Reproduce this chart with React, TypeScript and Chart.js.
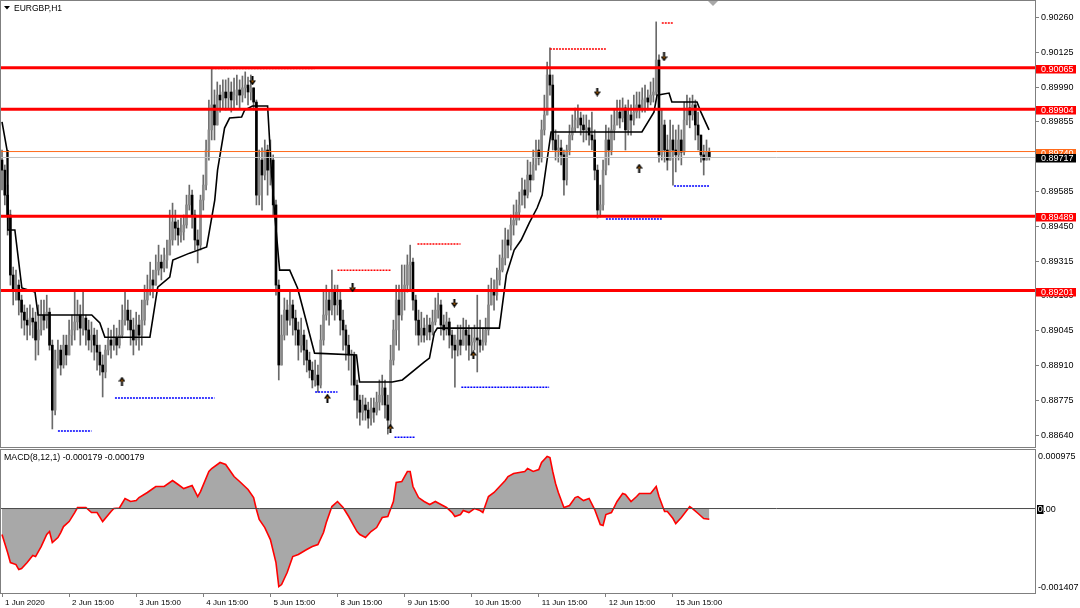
import React, { useEffect, useRef } from "react";
import { Chart, registerables } from "chart.js";

Chart.register(...registerables);

const FONT = "'Liberation Sans', Arial, sans-serif";
const X_MIN = -0.36;
const X_MAX = 369.5;
const Y_MIN = 0.88594;
const Y_MAX = 0.90324;

const symbolTitle = "EURGBP,H1";
const macdTitle = "MACD(8,12,1) -0.000179 -0.000179";

const firstOpen = 0.89707;
const closes = [
  0.89668, 0.89571, 0.89494, 0.89261, 0.89203,
  0.89222, 0.89164, 0.89117, 0.89086, 0.89067,
  0.89094, 0.89079, 0.89009, 0.89048, 0.89106,
  0.89086, 0.89117, 0.88989, 0.88737, 0.88931,
  0.88970, 0.88912, 0.88989, 0.88951, 0.89028,
  0.89048, 0.89079, 0.89106, 0.89055, 0.89094,
  0.89048, 0.89009, 0.89028, 0.88989, 0.88962,
  0.88912, 0.88885, 0.88970, 0.89009, 0.88989,
  0.89017, 0.88989, 0.89028, 0.89086, 0.89125,
  0.89086, 0.89048, 0.89009, 0.89067, 0.89028,
  0.89086, 0.89164, 0.89203, 0.89242, 0.89222,
  0.89280, 0.89311, 0.89288, 0.89319, 0.89339,
  0.89397, 0.89467, 0.89443, 0.89416, 0.89428,
  0.89455, 0.89533, 0.89571, 0.89494, 0.89397,
  0.89377, 0.89552, 0.89610, 0.89746, 0.89824,
  0.89921, 0.89843, 0.89959, 0.89940, 0.89971,
  0.89948, 0.89971, 0.89940, 0.89959, 0.89979,
  0.89959, 0.89987, 0.89998, 0.89971, 0.89987,
  0.89932, 0.89571, 0.89707, 0.89649, 0.89746,
  0.89668, 0.89707, 0.89533, 0.89222, 0.88912,
  0.89028, 0.89125, 0.89086, 0.89145, 0.89094,
  0.89048, 0.88989, 0.89028, 0.88970, 0.88931,
  0.88892, 0.88854, 0.88873, 0.88834, 0.89009,
  0.89106, 0.89164, 0.89125, 0.89195, 0.89145,
  0.89164, 0.89086, 0.89048, 0.88989, 0.88951,
  0.88951, 0.88834, 0.88776, 0.88729, 0.88757,
  0.88737, 0.88706, 0.88745, 0.88729, 0.88768,
  0.88795, 0.88823, 0.88757, 0.88698, 0.88931,
  0.89048, 0.89164, 0.89106, 0.89203, 0.89222,
  0.89300, 0.89311, 0.89164, 0.89086, 0.89028,
  0.89055, 0.89028, 0.89067, 0.89040, 0.89079,
  0.89125, 0.89145, 0.89067, 0.89048, 0.89079,
  0.89028, 0.88989, 0.88970, 0.89009, 0.88989,
  0.89048, 0.89028, 0.88989, 0.89001, 0.89017,
  0.89009, 0.88989, 0.89001, 0.89048, 0.89145,
  0.89203, 0.89183, 0.89242, 0.89280, 0.89327,
  0.89397, 0.89377, 0.89455, 0.89474, 0.89505,
  0.89533, 0.89591, 0.89571, 0.89649, 0.89630,
  0.89688, 0.89746, 0.89715, 0.89824, 0.89882,
  0.90037, 0.89998, 0.89785, 0.89746, 0.89754,
  0.89727, 0.89630, 0.89746, 0.89804, 0.89832,
  0.89862, 0.89870, 0.89843, 0.89824, 0.89832,
  0.89804, 0.89785, 0.89668, 0.89513, 0.89533,
  0.89668, 0.89785, 0.89746, 0.89824, 0.89843,
  0.89893, 0.89870, 0.89909, 0.89824, 0.89882,
  0.89862, 0.89893, 0.89921, 0.89909, 0.89940,
  0.89948, 0.89932, 0.89959, 0.89971, 0.90095,
  0.89727, 0.89843, 0.89746, 0.89707, 0.89785,
  0.89746, 0.89727, 0.89785, 0.89738, 0.89862,
  0.89909, 0.89882, 0.89921, 0.89843, 0.89804,
  0.89727, 0.89707, 0.89738, 0.89717,
];

const highs = [
  0.89746, 0.89688, 0.89610, 0.89513, 0.89292,
  0.89280, 0.89242, 0.89183, 0.89145, 0.89133,
  0.89145, 0.89133, 0.89117, 0.89145, 0.89164,
  0.89164, 0.89183, 0.89133, 0.89009, 0.88970,
  0.89009, 0.88989, 0.89028, 0.89028, 0.89086,
  0.89106, 0.89195, 0.89164, 0.89145, 0.89203,
  0.89106, 0.89086, 0.89079, 0.89055, 0.89048,
  0.88989, 0.88951, 0.88989, 0.89055, 0.89048,
  0.89067, 0.89055, 0.89086, 0.89145, 0.89203,
  0.89164, 0.89125, 0.89094, 0.89117, 0.89106,
  0.89164, 0.89222, 0.89261, 0.89311, 0.89280,
  0.89339, 0.89377, 0.89339, 0.89366, 0.89397,
  0.89513, 0.89540, 0.89513, 0.89474, 0.89482,
  0.89494, 0.89571, 0.89610, 0.89591, 0.89513,
  0.89436, 0.89571, 0.89649, 0.89785, 0.89940,
  0.90064, 0.89979, 0.90010, 0.89998, 0.90018,
  0.90018, 0.90025, 0.90010, 0.90025, 0.90037,
  0.90018, 0.90033, 0.90049, 0.90029, 0.90037,
  0.89987, 0.89940, 0.89746, 0.89754, 0.89785,
  0.89765, 0.89785, 0.89727, 0.89552, 0.89242,
  0.89106, 0.89172, 0.89164, 0.89195, 0.89164,
  0.89125, 0.89079, 0.89094, 0.89048, 0.89009,
  0.88962, 0.88924, 0.88931, 0.88912, 0.89067,
  0.89203, 0.89222, 0.89203, 0.89280, 0.89222,
  0.89222, 0.89195, 0.89125, 0.89067, 0.89028,
  0.88970, 0.88962, 0.88854, 0.88795, 0.88795,
  0.88784, 0.88768, 0.88784, 0.88784, 0.88807,
  0.88854, 0.88873, 0.88854, 0.88795, 0.88989,
  0.89086, 0.89222, 0.89222, 0.89300, 0.89300,
  0.89339, 0.89377, 0.89327, 0.89183, 0.89125,
  0.89117, 0.89094, 0.89106, 0.89094, 0.89125,
  0.89172, 0.89191, 0.89164, 0.89106, 0.89117,
  0.89094, 0.89048, 0.89028, 0.89067, 0.89067,
  0.89094, 0.89086, 0.89067, 0.89055, 0.89067,
  0.89183, 0.89086, 0.89055, 0.89094, 0.89222,
  0.89249, 0.89242, 0.89288, 0.89339, 0.89397,
  0.89443, 0.89436, 0.89494, 0.89533, 0.89552,
  0.89583, 0.89637, 0.89630, 0.89707, 0.89699,
  0.89746, 0.89785, 0.89785, 0.89862, 0.89959,
  0.90087, 0.90142, 0.90037, 0.89824, 0.89804,
  0.89785, 0.89746, 0.89765, 0.89843, 0.89882,
  0.89909, 0.89921, 0.89893, 0.89882, 0.89882,
  0.89862, 0.89893, 0.89824, 0.89688, 0.89610,
  0.89707, 0.89843, 0.89832, 0.89882, 0.89901,
  0.89940, 0.89940, 0.89948, 0.89921, 0.89940,
  0.89921, 0.89959, 0.89971, 0.89971, 0.89987,
  0.89998, 0.89979, 0.90010, 0.90025, 0.90243,
  0.90115, 0.89901, 0.89862, 0.89804, 0.89862,
  0.89843, 0.89824, 0.89843, 0.89824, 0.89932,
  0.89959, 0.89948, 0.89959, 0.89940, 0.89893,
  0.89804, 0.89765, 0.89785, 0.89754,
];

const lows = [
  0.89591, 0.89533, 0.89416, 0.89222, 0.89145,
  0.89164, 0.89106, 0.89055, 0.89028, 0.89009,
  0.89028, 0.89017, 0.88931, 0.88951, 0.89028,
  0.89048, 0.89055, 0.88970, 0.88664, 0.88718,
  0.88900, 0.88873, 0.88900, 0.88912, 0.88951,
  0.88989, 0.89009, 0.89048, 0.88989, 0.89028,
  0.88989, 0.88970, 0.88962, 0.88931, 0.88892,
  0.88873, 0.88788, 0.88862, 0.88951, 0.88939,
  0.88970, 0.88951, 0.88978, 0.89017, 0.89067,
  0.89048, 0.88989, 0.88951, 0.88989, 0.88970,
  0.88989, 0.89067, 0.89145, 0.89183, 0.89172,
  0.89222, 0.89261, 0.89242, 0.89273, 0.89288,
  0.89358, 0.89377, 0.89397, 0.89377, 0.89389,
  0.89397, 0.89443, 0.89513, 0.89443, 0.89358,
  0.89308, 0.89358, 0.89513, 0.89591, 0.89707,
  0.89785, 0.89785, 0.89843, 0.89893, 0.89909,
  0.89901, 0.89909, 0.89893, 0.89909, 0.89921,
  0.89909, 0.89932, 0.89948, 0.89921, 0.89940,
  0.89901, 0.89533, 0.89533, 0.89513, 0.89630,
  0.89571, 0.89610, 0.89494, 0.89183, 0.88854,
  0.88931, 0.89009, 0.89028, 0.89067, 0.89028,
  0.88989, 0.88931, 0.88962, 0.88912, 0.88885,
  0.88862, 0.88823, 0.88830, 0.88807, 0.88823,
  0.88989, 0.89086, 0.89067, 0.89106, 0.89086,
  0.89106, 0.89028, 0.88970, 0.88931, 0.88892,
  0.88834, 0.88776, 0.88706, 0.88679, 0.88698,
  0.88698, 0.88667, 0.88679, 0.88690, 0.88718,
  0.88737, 0.88757, 0.88706, 0.88644, 0.88679,
  0.88912, 0.88989, 0.88970, 0.89086, 0.89125,
  0.89195, 0.89203, 0.89125, 0.89028, 0.88989,
  0.89001, 0.89001, 0.89009, 0.89009, 0.89028,
  0.89067, 0.89094, 0.89028, 0.89009, 0.89028,
  0.88978, 0.88939, 0.88826, 0.88947, 0.88951,
  0.88989, 0.88970, 0.88931, 0.88951, 0.88970,
  0.88885, 0.88962, 0.88970, 0.88989, 0.89028,
  0.89145, 0.89125, 0.89164, 0.89222, 0.89273,
  0.89300, 0.89327, 0.89358, 0.89416, 0.89455,
  0.89474, 0.89533, 0.89521, 0.89560, 0.89583,
  0.89630, 0.89668, 0.89688, 0.89699, 0.89804,
  0.89940, 0.89959, 0.89746, 0.89707, 0.89699,
  0.89688, 0.89571, 0.89610, 0.89727, 0.89785,
  0.89816, 0.89832, 0.89804, 0.89777, 0.89785,
  0.89765, 0.89746, 0.89630, 0.89482, 0.89486,
  0.89513, 0.89649, 0.89688, 0.89727, 0.89785,
  0.89843, 0.89832, 0.89855, 0.89746, 0.89804,
  0.89804, 0.89843, 0.89870, 0.89870, 0.89893,
  0.89893, 0.89901, 0.89921, 0.89932, 0.89959,
  0.89699, 0.89707, 0.89699, 0.89668, 0.89707,
  0.89610, 0.89661, 0.89707, 0.89688, 0.89727,
  0.89843, 0.89832, 0.89862, 0.89785, 0.89746,
  0.89699, 0.89649, 0.89707, 0.89707,
];

// stepped indicator line (bar index, price)
const trendIdx = [0, 1.8, 2.1, 4.6, 7.1, 11.8, 12.9, 32.1, 35, 36.8, 52.9, 55.7, 60, 61.1, 67.1, 73.2, 76.1, 77.1, 79.6, 81.4, 85.7, 86.8, 89.6, 95, 96.4, 97.5, 99.3, 102.9, 105.7, 107.5, 111.8, 126.8, 127.9, 139.6, 143.2, 151.1, 152.9, 154.6, 155.7, 177.9, 180.4, 183.2, 185.7, 188.6, 191.4, 193.2, 196.4, 228.9, 233.2, 234.3, 238.6, 239.6, 248.6, 250, 252.9];
const trendVal = [0.89855, 0.89746, 0.89436, 0.89436, 0.89211, 0.89195, 0.89106, 0.89106, 0.89075, 0.89020, 0.89020, 0.89214, 0.89253, 0.89319, 0.89346, 0.89370, 0.89552, 0.89668, 0.89831, 0.89870, 0.89874, 0.89901, 0.89917, 0.89917, 0.89657, 0.89502, 0.89280, 0.89280, 0.89211, 0.89137, 0.88958, 0.88951, 0.88846, 0.88846, 0.88854, 0.88924, 0.88939, 0.89036, 0.89055, 0.89055, 0.89261, 0.89358, 0.89397, 0.89463, 0.89521, 0.89571, 0.89816, 0.89816, 0.89893, 0.89959, 0.89967, 0.89932, 0.89932, 0.89893, 0.89824];

// horizontal levels
const levelPrices = [0.90065, 0.89904, 0.89489, 0.89201];
const askPrice = 0.8974;
const bidPrice = 0.89717;

// fractal resistance / support dotted segments
const resFrom = [75, 120, 148.6, 196, 236];
const resTo = [111.8, 139.3, 164, 216, 240];
const resPrice = [0.90062, 0.8928, 0.89381, 0.90138, 0.90239];
const supFrom = [20, 40.4, 112, 140.4, 164.3, 216, 240.4];
const supTo = [32, 76, 120, 147.9, 195.7, 236, 252.9];
const supPrice = [0.88656, 0.88784, 0.88807, 0.88632, 0.88826, 0.89478, 0.89606];

// fractal arrows
const downArrowIdx = [89.6, 125.4, 161.8, 212.9, 236.8];
const downArrowPrice = [0.90014, 0.89211, 0.89152, 0.89971, 0.90107];
const upArrowIdx = [42.9, 116.4, 138.9, 168.6, 227.9];
const upArrowPrice = [0.8885, 0.88784, 0.88667, 0.88951, 0.89676];

// time axis
const timeTickIdx = [0, 24, 48, 72, 96, 120, 144, 168, 192, 216, 240];
const timeTickLabels = ["1 Jun 2020", "2 Jun 15:00", "3 Jun 15:00", "4 Jun 15:00", "5 Jun 15:00", "8 Jun 15:00", "9 Jun 15:00", "10 Jun 15:00", "11 Jun 15:00", "12 Jun 15:00", "15 Jun 15:00"];
const priceTicks = [0.9026, 0.90125, 0.8999, 0.89855, 0.8972, 0.89585, 0.8945, 0.89315, 0.8918, 0.89045, 0.8891, 0.88775, 0.8864];

// MACD
const macdIdx = [0, 2, 3, 5, 6, 7, 9, 11, 12, 14, 16, 17, 18, 20, 21, 22, 24, 26, 27, 30, 32, 34, 36, 39, 40, 42, 44, 46, 48, 49, 52, 55, 58, 61, 63, 65, 68, 70, 71, 74, 75, 78, 80, 83, 85, 88, 90, 91, 92, 94, 96, 98, 99, 100, 102, 104, 106, 109, 111, 113, 115, 116, 118, 120, 122, 124, 126, 127, 128, 130, 132, 134, 136, 138, 140, 141, 143, 145, 146, 147, 149, 151, 153, 155, 157, 159, 161, 162, 164, 165, 167, 169, 171, 172, 174, 176, 178, 180, 181, 183, 185, 187, 188, 190, 192, 193, 195, 196, 197, 198, 199, 201, 203, 205, 206, 208, 210, 212, 214, 215, 216, 218, 220, 222, 223, 225, 227, 228, 230, 232, 234, 235, 237, 238, 240, 241, 243, 246, 247, 249, 251, 253];
const macdVal = [-0.000433, -0.000733, -0.0009, -0.000933, -0.001016, -0.001, -0.0009, -0.000783, -0.0008, -0.000633, -0.000433, -0.000383, -0.000566, -0.000483, -0.0004, -0.0003, -0.000217, -0.000067, 0.000017, 0.000017, -0.000067, -0.000067, -0.000217, -0.00005, 0.0, 0.00001, 0.000167, 0.000117, 0.000133, 0.000183, 0.000267, 0.000367, 0.000367, 0.000467, 0.0004, 0.000333, 0.000383, 0.0002, 0.000283, 0.000617, 0.000667, 0.000767, 0.000733, 0.000533, 0.00045, 0.000317, 0.000183, -0.000017, -0.000183, -0.000317, -0.000517, -0.0009, -0.0013, -0.001266, -0.001066, -0.0008, -0.000766, -0.000683, -0.000633, -0.0006, -0.0004, -0.000233, 0.000033, 0.000117, 0.000017, -0.000133, -0.0003, -0.000383, -0.000433, -0.000483, -0.000383, -0.000317, -0.00015, -0.000133, 0.000117, 0.000433, 0.00045, 0.000617, 0.000617, 0.000367, 0.000183, 0.000117, 0.000067, 0.000117, 0.000067, 0.000017, -0.000067, -0.000133, -0.0001, -0.000033, -0.000067, 0.0, -0.000033, -0.000067, 0.0002, 0.000267, 0.000367, 0.000467, 0.000533, 0.000583, 0.0006, 0.000617, 0.000667, 0.000617, 0.00065, 0.000767, 0.000866, 0.00085, 0.000617, 0.000417, 0.000267, 0.000017, 0.00005, 0.000183, 0.0002, 0.000133, 0.000167, -0.000017, -0.000267, -0.000283, -0.0001, -0.000067, 0.000117, 0.00025, 0.000233, 0.000117, 0.0002, 0.00025, 0.00025, 0.00025, 0.000367, 0.0002, -0.00005, -0.00005, -0.000167, -0.00025, -0.00015, 0.000033, 0.0, -0.000083, -0.000167, -0.000179];
const macdMax = 0.000975;
const macdMin = -0.001407;

function makeArrow(down: boolean): HTMLCanvasElement {
  const c = document.createElement("canvas");
  c.width = 7;
  c.height = 9;
  const g = c.getContext("2d") as CanvasRenderingContext2D;
  g.fillStyle = "#000";
  g.beginPath();
  if (down) {
    g.fillRect(2.5, 0, 2, 5);
    g.moveTo(0, 4);
    g.lineTo(7, 4);
    g.lineTo(3.5, 9);
  } else {
    g.fillRect(2.5, 4, 2, 5);
    g.moveTo(0, 5);
    g.lineTo(7, 5);
    g.lineTo(3.5, 0);
  }
  g.closePath();
  g.fill();
  g.fillStyle = "rgba(255,140,0,0.6)";
  g.fillRect(2.5, down ? 4 : 3, 2, 2);
  return c;
}

function hLine(from: number, to: number, p: number, extra: any) {
  return {
    type: "line",
    data: [
      { x: from, y: p },
      { x: to, y: p },
    ],
    pointRadius: 0,
    pointHoverRadius: 0,
    ...extra,
  };
}

function mainConfig(): any {
  const n = Math.min(closes.length, highs.length, lows.length);
  const opens: number[] = [];
  for (let i = 0; i < n; i++) opens.push(i === 0 ? firstOpen : closes[i - 1]);
  const wickData = [];
  const bodyData = [];
  const bodyColors = [];
  for (let i = 0; i < n; i++) {
    const o = opens[i];
    const c = closes[i];
    wickData.push({ x: i, y: [Math.min(lows[i], o, c), Math.max(highs[i], o, c)] });
    bodyData.push({ x: i, y: [o, c] });
    bodyColors.push(c >= o ? "#8a8a8a" : "#000000");
  }
  const datasets: any[] = [
    { type: "bar", data: wickData, backgroundColor: "#6a6a6a", barThickness: 1, grouped: false, order: 7 },
    { type: "bar", data: bodyData, backgroundColor: bodyColors, barThickness: 2, minBarLength: 1, grouped: false, order: 6 },
    {
      type: "line",
      data: trendIdx.map((x, i) => ({ x, y: trendVal[i] })),
      borderColor: "#000",
      borderWidth: 1.6,
      pointRadius: 0,
      pointHoverRadius: 0,
      order: 5,
    },
  ];
  resPrice.forEach((p, i) =>
    datasets.push(hLine(resFrom[i], resTo[i], p, { borderColor: "#ff0000", borderWidth: 1.5, borderDash: [2, 1], order: 4 }))
  );
  supPrice.forEach((p, i) =>
    datasets.push(hLine(supFrom[i], supTo[i], p, { borderColor: "#0000ff", borderWidth: 1.5, borderDash: [2, 1], order: 4 }))
  );
  datasets.push(hLine(X_MIN, X_MAX, bidPrice, { borderColor: "#c0c0c0", borderWidth: 1, order: 3 }));
  datasets.push(hLine(X_MIN, X_MAX, askPrice, { borderColor: "#ff6a1a", borderWidth: 1, order: 3 }));
  levelPrices.forEach((p) => datasets.push(hLine(X_MIN, X_MAX, p, { borderColor: "#ff0000", borderWidth: 3, order: 2 })));
  datasets.push({
    type: "line",
    showLine: false,
    data: downArrowIdx.map((x, i) => ({ x, y: downArrowPrice[i] })),
    pointStyle: makeArrow(true),
    pointRadius: 4,
    order: 1,
  });
  datasets.push({
    type: "line",
    showLine: false,
    data: upArrowIdx.map((x, i) => ({ x, y: upArrowPrice[i] })),
    pointStyle: makeArrow(false),
    pointRadius: 4,
    order: 1,
  });

  const decor = {
    id: "mainDecor",
    afterDraw(chart: any) {
      const ctx = chart.ctx as CanvasRenderingContext2D;
      const ys = chart.scales.y;
      ctx.save();
      ctx.strokeStyle = "#7f7f7f";
      ctx.lineWidth = 1;
      ctx.strokeRect(0.5, 0.5, 1035, 447);
      // chart shift marker
      ctx.fillStyle = "#a8a8a8";
      ctx.beginPath();
      ctx.moveTo(708, 1);
      ctx.lineTo(718, 1);
      ctx.lineTo(713, 6);
      ctx.closePath();
      ctx.fill();
      // title
      ctx.fillStyle = "#000";
      ctx.beginPath();
      ctx.moveTo(4, 6);
      ctx.lineTo(10, 6);
      ctx.lineTo(7, 9.5);
      ctx.closePath();
      ctx.fill();
      ctx.font = `8.5px ${FONT}`;
      ctx.textBaseline = "middle";
      ctx.textAlign = "left";
      ctx.fillText(symbolTitle, 14, 9);
      // price boxes
      ctx.font = `9px ${FONT}`;
      const box = (p: number, bg: string, fg: string) => {
        const py = Math.round(ys.getPixelForValue(p));
        ctx.fillStyle = bg;
        ctx.fillRect(1036, py - 3, 40, 8.5);
        ctx.fillStyle = fg;
        ctx.fillText(p.toFixed(5), 1041, py + 1.5);
      };
      levelPrices.forEach((p) => box(p, "#ff0000", "#ffffff"));
      box(askPrice, "#ff6a1a", "#ffffff");
      box(bidPrice, "#000000", "#ffffff");
      ctx.restore();
    },
  };

  return {
    type: "line",
    data: { datasets },
    options: {
      animation: false,
      responsive: false,
      devicePixelRatio: 1,
      events: [],
      layout: { autoPadding: false, padding: { left: 1, top: 1, right: 0, bottom: 2 } },
      plugins: { legend: { display: false }, tooltip: { enabled: false } },
      scales: {
        x: { type: "linear", min: X_MIN, max: X_MAX, display: false, offset: false, grid: { offset: false } },
        y: {
          type: "linear",
          position: "right",
          min: Y_MIN,
          max: Y_MAX,
          afterBuildTicks: (s: any) => {
            s.ticks = priceTicks.map((v) => ({ value: v }));
          },
          afterFit: (s: any) => {
            s.width = 45;
            s.paddingTop = 0;
            s.paddingBottom = 0;
          },
          ticks: {
            autoSkip: false,
            padding: 2,
            color: "#000",
            font: { family: FONT, size: 9 },
            callback: (v: any) => Number(v).toFixed(5),
          },
          grid: { drawOnChartArea: false, drawTicks: true, tickLength: 4, color: "#808080" },
          border: { display: false },
        },
      },
    },
    plugins: [decor],
  };
}

function macdConfig(): any {
  const decor = {
    id: "macdDecor",
    afterDraw(chart: any) {
      const ctx = chart.ctx as CanvasRenderingContext2D;
      const ys = chart.scales.y;
      ctx.save();
      ctx.strokeStyle = "#7f7f7f";
      ctx.lineWidth = 1;
      ctx.strokeRect(0.5, 0.5, 1035, 144);
      ctx.fillStyle = "#000";
      ctx.textBaseline = "middle";
      ctx.textAlign = "left";
      ctx.font = `8.8px ${FONT}`;
      ctx.fillText(macdTitle, 4, 8.5);
      ctx.font = `9px ${FONT}`;
      ctx.fillText(macdMax.toFixed(6), 1038, 7.5);
      ctx.fillText(macdMin.toFixed(6), 1038, 139);
      const py = Math.round(ys.getPixelForValue(0));
      const w0 = ctx.measureText("0").width;
      ctx.fillStyle = "#000";
      ctx.fillRect(1037, py - 4, w0 + 1.5, 9);
      ctx.fillStyle = "#fff";
      ctx.fillText("0", 1037.7, py + 0.5);
      ctx.fillStyle = "#000";
      ctx.fillText(".00", 1037.7 + w0 + 0.5, py + 0.5);
      ctx.restore();
    },
  };
  return {
    type: "line",
    data: {
      datasets: [
        {
          type: "line",
          data: macdIdx.map((x, i) => ({ x, y: macdVal[i] })),
          borderColor: "#ff0000",
          borderWidth: 1.6,
          backgroundColor: "#a8a8a8",
          fill: "origin",
          pointRadius: 0,
          pointHoverRadius: 0,
          order: 2,
        },
        hLine(X_MIN, X_MAX, 0, { borderColor: "#4a4a4a", borderWidth: 1, order: 1 }),
      ],
    },
    options: {
      animation: false,
      responsive: false,
      devicePixelRatio: 1,
      events: [],
      layout: { autoPadding: false, padding: { left: 1, top: 1, right: 0, bottom: 0 } },
      plugins: { legend: { display: false }, tooltip: { enabled: false } },
      scales: {
        x: {
          type: "linear",
          min: X_MIN,
          max: X_MAX,
          offset: false,
          afterBuildTicks: (s: any) => {
            s.ticks = timeTickIdx.map((v) => ({ value: v }));
          },
          afterFit: (s: any) => {
            s.height = 15;
            s.paddingLeft = 0;
            s.paddingRight = 0;
          },
          ticks: {
            autoSkip: false,
            maxRotation: 0,
            minRotation: 0,
            align: "start",
            labelOffset: 3,
            padding: 1,
            color: "#000",
            font: { family: FONT, size: 8 },
            callback: (_v: any, i: number) => timeTickLabels[i],
          },
          grid: { drawOnChartArea: false, drawTicks: true, tickLength: 4, color: "#808080", offset: false },
          border: { display: false },
        },
        y: {
          type: "linear",
          position: "right",
          min: macdMin,
          max: macdMax,
          afterFit: (s: any) => {
            s.width = 45;
            s.paddingTop = 0;
            s.paddingBottom = 0;
          },
          ticks: { display: false },
          grid: { display: false },
          border: { display: false },
        },
      },
    },
    plugins: [decor],
  };
}

export default function App() {
  const mainRef = useRef<HTMLCanvasElement>(null);
  const macdRef = useRef<HTMLCanvasElement>(null);
  useEffect(() => {
    const c1 = new Chart(mainRef.current as HTMLCanvasElement, mainConfig());
    const c2 = new Chart(macdRef.current as HTMLCanvasElement, macdConfig());
    return () => {
      c1.destroy();
      c2.destroy();
    };
  }, []);
  return (
    <div style={{ position: "fixed", left: 0, top: 0, width: 1080, height: 608, background: "#fff", overflow: "hidden" }}>
      <canvas ref={mainRef} width={1080} height={449} style={{ position: "absolute", left: 0, top: 0, width: 1080, height: 449 }} />
      <canvas ref={macdRef} width={1080} height={159} style={{ position: "absolute", left: 0, top: 449, width: 1080, height: 159 }} />
    </div>
  );
}
